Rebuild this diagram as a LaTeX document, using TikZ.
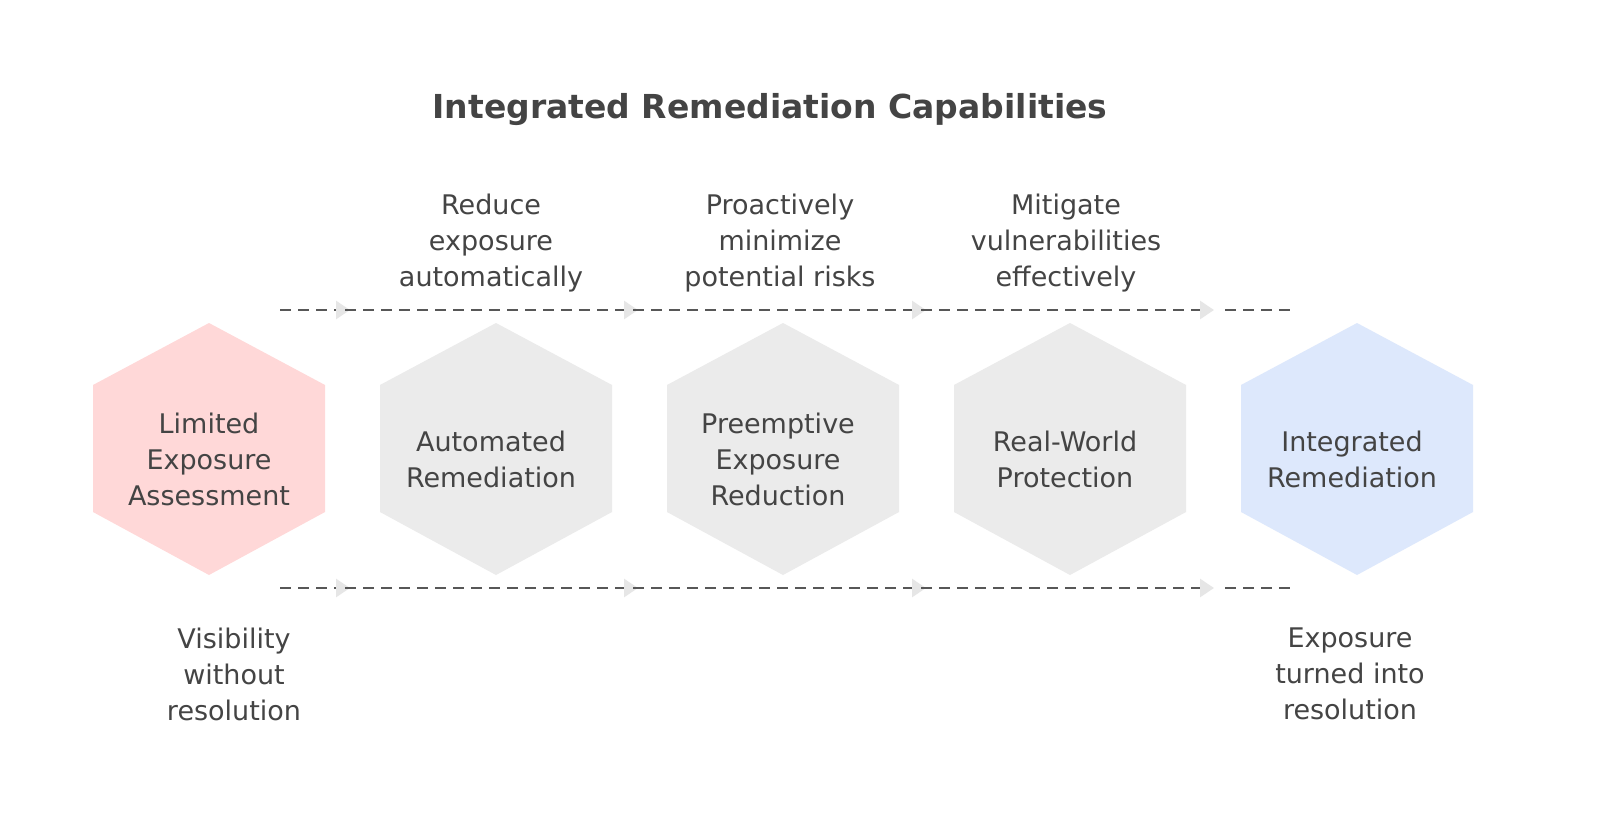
\documentclass[tikz,border=0pt]{standalone}
\usepackage{fontspec}
\setmainfont{DejaVu Sans}
\usetikzlibrary{arrows.meta}
\definecolor{txt}{HTML}{444444}
\definecolor{pinkf}{HTML}{FFD8D8}
\definecolor{grayf}{HTML}{EBEBEB}
\definecolor{bluef}{HTML}{DDE8FC}
\definecolor{arr}{HTML}{E6E6E6}
\tikzset{
  lbl/.style={text=txt,font=\fontsize{27}{36}\selectfont,align=center},
  flow/.style={draw=txt!90,line width=2.6pt,dash pattern=on 11pt off 7pt,-{Triangle[length=14pt,width=18pt,color=arr]}},
  flowend/.style={draw=txt!90,line width=2.6pt,dash pattern=on 11pt off 7pt}
}
\newcommand{\hexa}[2]{\fill[#2] (#1,323)--(#1+116,385)--(#1+116,512)--(#1,575)--(#1-116,512)--(#1-116,385)--cycle;}
\begin{document}
\begin{tikzpicture}[x=1pt,y=-1pt]
\useasboundingbox (0,0) rectangle (1600,824);
\fill[white] (0,0) rectangle (1600,824);
\node[text=txt,font=\fontsize{33}{38}\selectfont\bfseries] (title) at (770,110) {Integrated Remediation Capabilities};
\hexa{209}{pinkf}
\hexa{496}{grayf}
\hexa{783}{grayf}
\hexa{1070}{grayf}
\hexa{1357}{bluef}
\node[lbl] (h1) at (209,459) {Limited\\Exposure\\Assessment};
\node[lbl] (h2) at (491,459) {Automated\\Remediation};
\node[lbl] (h3) at (778,459) {Preemptive\\Exposure\\Reduction};
\node[lbl] (h4) at (1065,459) {Real-World\\Protection};
\node[lbl] (h5) at (1352,459) {Integrated\\Remediation};
\node[lbl] (t2) at (491,243) {Reduce\\exposure\\automatically};
\node[lbl] (t3) at (780,243) {Proactively\\minimize\\potential risks};
\node[lbl] (t4) at (1066,243) {Mitigate\\vulnerabilities\\effectively};
\node[lbl] (b1) at (234,674) {Visibility\\without\\resolution};
\node[lbl] (b5) at (1350,674) {Exposure\\turned into\\resolution};
\foreach \y/\n in {310/t,588/b}{
  \coordinate (\n0) at (280,\y);
  \coordinate (\n1) at (350,\y);
  \coordinate (\n2) at (638,\y);
  \coordinate (\n3) at (926,\y);
  \coordinate (\n4) at (1214,\y);
  \coordinate (\n5) at (1225,\y);
  \coordinate (\n6) at (1290,\y);
  \draw[flow] (\n0)--(\n1);
  \draw[flow] ([xshift=-5pt]\n1)--(\n2);
  \draw[flow] ([xshift=-5pt]\n2)--(\n3);
  \draw[flow] ([xshift=-5pt]\n3)--(\n4);
  \draw[flowend] (\n5)--(\n6);
}
\end{tikzpicture}
\end{document}
